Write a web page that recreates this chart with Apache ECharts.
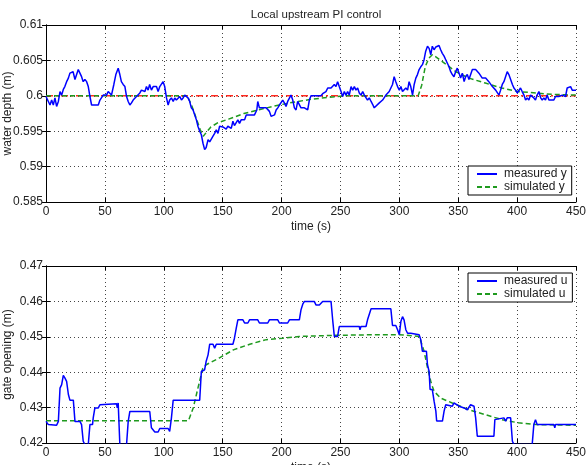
<!DOCTYPE html>
<html>
<head>
<meta charset="utf-8">
<script src="https://cdn.jsdelivr.net/npm/echarts@6/dist/echarts.min.js"></script>
<style>
    html, body { margin: 0; padding: 0; background: #fff; }
    #chart { width: 586px; height: 465px; }
</style>
</head>
<body>
<div id="chart"></div>
<script>
// time (s), water depth (m)
var measuredY = [
    [0, 0.5999], [1, 0.6000], [3.4, 0.5987], [4.8, 0.5994], [6.2, 0.5987], [7.6, 0.5997], [9, 0.5985], [10.5, 0.5992],
    [11.9, 0.6006], [13.3, 0.6001], [14.7, 0.6009], [16, 0.6013], [17.5, 0.6020], [19, 0.6025], [20.3, 0.6032], [21.8, 0.6030],
    [23, 0.6034], [24.6, 0.6023], [26, 0.6030], [27.4, 0.6037], [28.8, 0.6039], [30.2, 0.6027], [31.6, 0.6020], [33, 0.6023],
    [34.5, 0.6020], [35.9, 0.6013], [37.3, 0.5999], [38.7, 0.5987], [44.4, 0.5987], [45.8, 0.5994], [48.6, 0.6001], [51.4, 0.6001],
    [52.8, 0.6006], [54.2, 0.6006], [55.6, 0.6001], [57.6, 0.6016], [59.3, 0.6030], [61.3, 0.6039], [62.7, 0.6030], [64, 0.6020],
    [65.5, 0.6016], [67, 0.6013], [68.4, 0.5999], [69.8, 0.5992], [71.2, 0.5987], [72.6, 0.5990], [74, 0.5994], [76.8, 0.5999],
    [79.7, 0.6004], [81, 0.6008], [82.5, 0.6006], [84, 0.6006], [85.3, 0.6013], [86.7, 0.6008], [88, 0.6016], [89.5, 0.6008],
    [91, 0.6013], [93.8, 0.6013], [95.2, 0.6006], [96.6, 0.6013], [98, 0.6013], [99.4, 0.6020], [100.8, 0.6013], [102.3, 0.5997],
    [103.7, 0.5987], [105, 0.5994], [106.5, 0.5997], [108, 0.5992], [109.3, 0.5997], [110.7, 0.5994], [112, 0.5994], [113.6, 0.5999],
    [115, 0.5994], [116.4, 0.5997], [117.8, 0.6001], [119, 0.6000], [120.6, 0.5997], [122, 0.5992], [123.4, 0.5983], [124.9, 0.5980],
    [126.3, 0.5973], [127.7, 0.5966], [129, 0.5957], [130.5, 0.5950], [131.9, 0.5945], [133.3, 0.5933], [134.7, 0.5924], [136, 0.5927],
    [137.6, 0.5938], [139, 0.5935], [140.4, 0.5933], [141.8, 0.5943], [143.2, 0.5947], [144.6, 0.5952], [146, 0.5947], [147.4, 0.5957],
    [148.8, 0.5958], [150.2, 0.5956], [151.6, 0.5958], [153, 0.5953], [154.4, 0.5957], [155.9, 0.5959], [157.3, 0.5954], [158.7, 0.5964],
    [160, 0.5958], [161.5, 0.5959], [162.9, 0.5966], [164.3, 0.5961], [165.7, 0.5966], [167.2, 0.5968], [168.6, 0.5966], [170, 0.5973],
    [174.2, 0.5973], [175.6, 0.5971], [177, 0.5973], [179, 0.5980], [179.8, 0.5992], [181.2, 0.5983], [186.9, 0.5983], [188.3, 0.5985],
    [189.7, 0.5978], [191.1, 0.5971], [192.5, 0.5971], [194, 0.5973], [195.4, 0.5980], [196.8, 0.5983], [198.2, 0.5987], [199.6, 0.5985],
    [201, 0.5994], [202.4, 0.5990], [203.8, 0.5985], [205.2, 0.5992], [206.7, 0.5994], [208, 0.6001], [209.5, 0.5994], [210.9, 0.5983],
    [212.3, 0.5980], [213.7, 0.5992], [215, 0.5994], [216.5, 0.5983], [218, 0.5985], [219.4, 0.5983], [220.8, 0.5985], [222.2, 0.5980],
    [223.6, 0.5994], [225, 0.6000], [233.5, 0.6000], [234.9, 0.6003], [236.3, 0.6001], [237.7, 0.6006], [239.2, 0.6011], [240.6, 0.6013],
    [242, 0.6011], [243.4, 0.6011], [244.8, 0.6016], [246.2, 0.6013], [247.6, 0.6020], [249, 0.6013], [250.5, 0.6006], [251.9, 0.5999],
    [253.3, 0.6006], [254.7, 0.6001], [256.1, 0.6006], [257.5, 0.6001], [259, 0.6013], [260.4, 0.6008], [261.8, 0.6013], [263.2, 0.6008],
    [264.6, 0.6011], [266, 0.6004], [267.4, 0.6001], [268.9, 0.6006], [270.3, 0.6001], [271.7, 0.5999], [273, 0.5994], [274.5, 0.5997],
    [276, 0.5992], [277.3, 0.5988], [278.7, 0.5983], [280.1, 0.5981], [283, 0.5990], [285.8, 0.5994], [288.6, 0.6001], [291.4, 0.6006],
    [292.8, 0.6011], [294.2, 0.6016], [295.6, 0.6027], [297, 0.6020], [298.5, 0.6013], [300, 0.6008], [301.3, 0.6013], [302.7, 0.6006],
    [304, 0.6004], [305.5, 0.6011], [307, 0.6008], [308.3, 0.6020], [309.7, 0.6013], [311.2, 0.6001], [312.6, 0.6016], [314, 0.6025],
    [315.4, 0.6030], [316.8, 0.6037], [318.2, 0.6041], [319.6, 0.6044], [321, 0.6051], [322.4, 0.6063], [323.9, 0.6070], [325.3, 0.6067],
    [326.7, 0.6058], [328, 0.6070], [329.5, 0.6065], [331, 0.6069], [332.3, 0.6070], [333.7, 0.6071], [335.1, 0.6065], [336.5, 0.6060],
    [338, 0.6056], [339.4, 0.6051], [340.8, 0.6046], [342.2, 0.6041], [343.6, 0.6034], [345, 0.6030], [346.4, 0.6027], [347.8, 0.6034],
    [349.2, 0.6039], [350.7, 0.6032], [352, 0.6025], [353.5, 0.6032], [355, 0.6020], [356.3, 0.6027], [357.7, 0.6030], [359.1, 0.6023],
    [360.5, 0.6025], [362, 0.6037], [363.4, 0.6039], [364.8, 0.6037], [366.2, 0.6039], [367.6, 0.6032], [369, 0.6030], [370.4, 0.6025],
    [371.9, 0.6023], [373.3, 0.6025], [374.7, 0.6023], [376, 0.6020], [377.5, 0.6018], [379, 0.6013], [380.3, 0.6011], [381.8, 0.6008],
    [383.2, 0.6006], [384.6, 0.6001], [386, 0.6008], [387.4, 0.6016], [388.8, 0.6020], [390.2, 0.6027], [391.6, 0.6034], [393, 0.6030],
    [394.5, 0.6023], [396, 0.6016], [397.3, 0.6011], [398.7, 0.6008], [400.1, 0.6004], [401.5, 0.6006], [402.9, 0.6011], [404.3, 0.6006],
    [405.8, 0.6001], [407.2, 0.5994], [408.6, 0.5997], [410, 0.5994], [411.4, 0.6001], [412.8, 0.5999], [414.2, 0.5997], [415.6, 0.5994],
    [417, 0.6001], [418.5, 0.6006], [420, 0.5997], [421.3, 0.5994], [422.7, 0.5997], [424.1, 0.5994], [425.5, 0.6001], [427, 0.5994],
    [431.2, 0.5994], [432.6, 0.5999], [435.4, 0.5999], [438.3, 0.6001], [441.1, 0.5999], [442.5, 0.6011], [444, 0.6013], [445.4, 0.6013],
    [446.8, 0.6008], [450, 0.6008]
];
var simulatedY = [
    [0, 0.6], [120, 0.6], [124, 0.5985], [128, 0.5966], [131, 0.5952], [133.5, 0.5943], [136, 0.5948], [140, 0.5956],
    [146, 0.5962], [155, 0.5967], [168, 0.5975], [180, 0.5980], [195, 0.5986], [210, 0.5991], [225, 0.5995], [240, 0.5998],
    [255, 0.6], [316, 0.6], [319, 0.6015], [322, 0.6041], [325, 0.6053], [328, 0.6058], [331, 0.6055], [335, 0.6050],
    [340, 0.6044], [348, 0.6034], [359, 0.6025], [373, 0.6018], [387, 0.6011], [401, 0.6006], [416, 0.6004], [430, 0.6002],
    [450, 0.6001]
];
var setpointY = [[0, 0.6], [450, 0.6]];

// time (s), gate opening (m)
var measuredU = [
    [0, 0.4261], [2, 0.4252], [9, 0.4250], [10.5, 0.4261], [11.9, 0.4355], [13.3, 0.4365], [14.7, 0.4391], [16, 0.4384],
    [17.5, 0.4374], [19, 0.4337], [20.3, 0.4321], [23.2, 0.4321], [24.6, 0.4261], [28.8, 0.4261], [30.2, 0.4252], [31.6, 0.4205],
    [33, 0.4196], [35.9, 0.4196], [37.3, 0.4252], [39.5, 0.4252], [40.1, 0.4271], [41.5, 0.4299], [43, 0.4304], [44.4, 0.4299],
    [45.8, 0.4308], [47.2, 0.4311], [59.9, 0.4311], [60.5, 0.4299], [61.3, 0.4313], [62.7, 0.4196], [68.4, 0.4196], [69.8, 0.4261],
    [71.2, 0.4289], [88.1, 0.4289], [89.5, 0.4243], [92.4, 0.4231], [95.2, 0.4231], [96.6, 0.4241], [103.7, 0.4241], [105, 0.4233],
    [106.5, 0.4271], [108, 0.4321], [130.5, 0.4321], [131.9, 0.4402], [133.3, 0.4402], [134.7, 0.4407], [136, 0.4431], [137.6, 0.4449],
    [139, 0.4479], [141.8, 0.4479], [143.2, 0.4468], [144.6, 0.4479], [158.7, 0.4479], [160, 0.4496], [161.5, 0.4524], [162.9, 0.4548],
    [167.2, 0.4548], [168.6, 0.4539], [171.4, 0.4539], [172.8, 0.4548], [179.8, 0.4548], [181.2, 0.4539], [188.3, 0.4539], [189.7, 0.4548],
    [196.8, 0.4548], [198.2, 0.4539], [205.2, 0.4539], [206.7, 0.4548], [215.1, 0.4548], [216.5, 0.4576], [218, 0.4592], [219.4, 0.4600],
    [227.8, 0.4600], [229.2, 0.4590], [232.1, 0.4590], [234.9, 0.4600], [242, 0.4600], [243.4, 0.4548], [244.8, 0.4501], [247.6, 0.4501],
    [249, 0.4529], [266, 0.4529], [266.6, 0.4520], [267.4, 0.4529], [271.7, 0.4529], [273, 0.4548], [274.5, 0.4553], [276, 0.4579],
    [292.8, 0.4579], [294.2, 0.4532], [297, 0.4532], [298.5, 0.4520], [300, 0.4506], [301.3, 0.4543], [302.7, 0.4557], [304, 0.4548],
    [305.5, 0.4520], [307, 0.4510], [309.7, 0.4510], [311.2, 0.4506], [316.8, 0.4506], [318.2, 0.4492], [319.6, 0.4459], [323, 0.4459],
    [323.9, 0.4421], [325.3, 0.4402], [326.1, 0.4351], [328, 0.4351], [329.5, 0.4318], [331, 0.4290], [331.7, 0.4262], [336.6, 0.4262],
    [338, 0.4290], [339.4, 0.4308], [340.8, 0.4304], [345, 0.4304], [346.4, 0.4313], [347.8, 0.4313], [350.7, 0.4304], [355, 0.4299],
    [357.7, 0.4294], [360.5, 0.4308], [363.4, 0.4304], [364.8, 0.4271], [366.2, 0.4219], [380.3, 0.4219], [381.1, 0.4266], [381.8, 0.4271],
    [388.8, 0.4271], [390.2, 0.4262], [391.6, 0.4271], [394.5, 0.4271], [396, 0.4205], [397.3, 0.4196], [412.8, 0.4196], [414.2, 0.4252],
    [415.6, 0.4266], [417, 0.4252], [431.2, 0.4252], [432, 0.4243], [432.6, 0.4252], [450, 0.4252]
];
var simulatedU = [
    [0, 0.4263], [121, 0.4263], [125, 0.4299], [129, 0.4355], [133, 0.4410], [136, 0.4421], [140, 0.4428], [147, 0.4440],
    [159, 0.4463], [173, 0.4479], [187, 0.4492], [201, 0.4496], [215, 0.4501], [243, 0.4504], [283, 0.4506], [300, 0.4506],
    [317, 0.4501], [321, 0.4459], [324, 0.4412], [327, 0.4370], [329.5, 0.4346], [335, 0.4327], [345, 0.4313], [359, 0.4294],
    [373, 0.4280], [387, 0.4266], [401, 0.4257], [416, 0.4252], [450, 0.4250]
];

var font = 'Liberation Sans, Arial, sans-serif';
var gridLine = { show: true, lineStyle: { color: '#444', type: [1, 3], width: 1 } };
var blackLine = { show: true, lineStyle: { color: '#000', width: 1 } };
var tick = { show: true, inside: true, length: 4, lineStyle: { color: '#000' } };
var label = { fontFamily: font, fontSize: 12, color: '#222' };

function xAxes(grid) {
    return [{
        type: 'value', gridIndex: grid, min: 0, max: 450, interval: 50, position: 'bottom',
        name: 'time (s)', nameLocation: 'middle', nameGap: 19, nameMoveOverlap: false,
        nameTextStyle: { fontFamily: font, fontSize: 12, color: '#222' },
        axisLine: blackLine, axisTick: tick, splitLine: gridLine,
        axisLabel: Object.assign({ margin: 4 }, label)
    }, {
        type: 'value', gridIndex: grid, min: 0, max: 450, interval: 50, position: 'top',
        axisLine: blackLine, axisTick: tick, splitLine: { show: false }, axisLabel: { show: false }
    }];
}
function yAxes(grid, min, max, step, name) {
    return [{
        type: 'value', gridIndex: grid, min: min, max: max, interval: step, position: 'left',
        name: name, nameLocation: 'middle', nameGap: 32, nameMoveOverlap: false,
        nameTextStyle: { fontFamily: font, fontSize: 12, color: '#222' },
        axisLine: blackLine, axisTick: tick, splitLine: gridLine,
        axisLabel: Object.assign({ margin: 3 }, label)
    }, {
        type: 'value', gridIndex: grid, min: min, max: max, interval: step, position: 'right',
        axisLine: blackLine, axisTick: tick, splitLine: { show: false }, axisLabel: { show: false }
    }];
}
function lineSeries(name, data, x, y, color, type) {
    return {
        name: name, type: 'line', data: data, xAxisIndex: x, yAxisIndex: y,
        symbol: 'none', silent: true, animation: false, clip: true,
        lineStyle: { color: color, width: 1.5, type: type },
        itemStyle: { color: color }
    };
}
function legend(top, names) {
    return {
        data: names, orient: 'vertical', left: 468, top: top,
        padding: [2, 5, 2, 8], itemGap: 1, itemWidth: 20, itemHeight: 12,
        itemStyle: { opacity: 0 },
        borderColor: '#000', borderWidth: 1, backgroundColor: '#fff',
        textStyle: { fontFamily: font, fontSize: 12, color: '#222', padding: [0, 0, 0, 2] }
    };
}

var chart = echarts.init(document.getElementById('chart'), null, { renderer: 'canvas' });
chart.setOption({
    animation: false,
    backgroundColor: '#fff',
    title: {
        text: 'Local upstream PI control', left: 311, top: 4, textAlign: 'center',
        textStyle: { fontFamily: font, fontSize: 11.5, fontWeight: 'normal', color: '#222' }
    },
    grid: [
        { left: 46, right: 10, top: 25, height: 177, outerBoundsMode: 'none', containLabel: false },
        { left: 46, right: 10, top: 266, height: 177, outerBoundsMode: 'none', containLabel: false }
    ],
    xAxis: xAxes(0).concat(xAxes(1)),
    yAxis: yAxes(0, 0.585, 0.61, 0.005, 'water depth (m)').concat(yAxes(1, 0.42, 0.47, 0.01, 'gate opening (m)')),
    legend: [
        legend(166, ['measured y', 'simulated y']),
        legend(273, ['measured u', 'simulated u'])
    ],
    series: [
        lineSeries('setpoint', setpointY, 0, 0, '#ff2a1f', [7, 3, 2, 3]),
        lineSeries('simulated y', simulatedY, 0, 0, '#1f9a1f', [5, 3]),
        lineSeries('measured y', measuredY, 0, 0, '#0000ff', 'solid'),
        lineSeries('simulated u', simulatedU, 2, 2, '#1f9a1f', [5, 3]),
        lineSeries('measured u', measuredU, 2, 2, '#0000ff', 'solid')
    ]
});
</script>
</body>
</html>
